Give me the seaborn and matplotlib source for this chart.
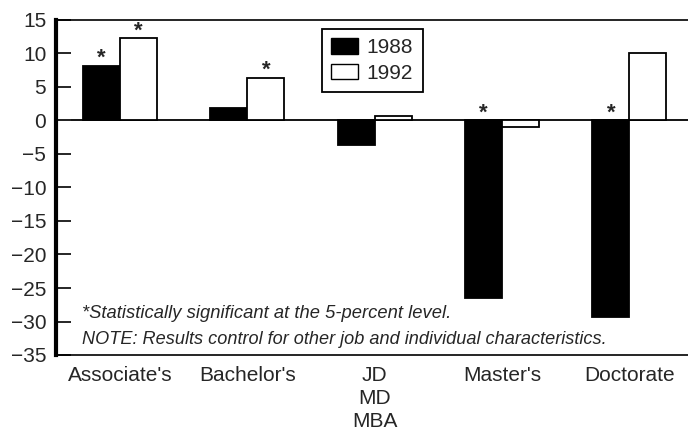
import numpy as np
import pandas as pd
import seaborn as sns
import matplotlib.pyplot as plt
from matplotlib.patches import Patch

# --- data ---
degrees = ["Associate's", "Bachelor's", "JD\nMD\nMBA", "Master's", "Doctorate"]
years = ["1988", "1992"]
values_1988 = [8.2, 1.9, -3.6, -26.5, -29.3]
values_1992 = [12.3, 6.4, 0.6, -1.0, 10.1]
signif_1988 = [True, False, False, True, True]
signif_1992 = [True, True, False, False, False]

df = pd.DataFrame({
    'degree': degrees * 2,
    'year': [years[0]] * len(degrees) + [years[1]] * len(degrees),
    'value': values_1988 + values_1992,
})

sns.set_style('white')
plt.rcParams['font.family'] = ['Liberation Sans', 'DejaVu Sans']

fig = plt.figure(figsize=(6.88, 4.34), dpi=100)
ax = fig.add_axes([56 / 688, 1 - 355 / 434, 1 - 56 / 688, (355 - 20) / 434])

sns.barplot(data=df, x='degree', y='value', hue='year', order=degrees, hue_order=years,
            palette=['black', 'white'], edgecolor='black', linewidth=1.3,
            width=0.58, saturation=1, ax=ax, legend=False)

ax.axhline(0, color='black', lw=1.3, zorder=0)

# asterisks for significance
bw = 0.29
for i in range(len(degrees)):
    if signif_1988[i]:
        ax.text(i - bw / 2, max(values_1988[i], 0) + 1.1, '*', ha='center', va='center',
                fontsize=16, fontweight='bold')
    if signif_1992[i]:
        ax.text(i + bw / 2, max(values_1992[i], 0) + 1.1, '*', ha='center', va='center',
                fontsize=16, fontweight='bold')

ax.set_ylim(-35, 15)
ax.set_xlim(-0.503, 4.46)
ax.set_yticks(np.arange(-35, 16, 5))
ax.set_xlabel('')
ax.set_ylabel('')

ax.spines['right'].set_visible(False)
ax.spines['left'].set_linewidth(3)
ax.spines['top'].set_linewidth(1.2)
ax.spines['bottom'].set_linewidth(1.2)
for s in ax.spines.values():
    s.set_color('black')

ax.tick_params(axis='y', direction='in', length=11, width=1.4, pad=7, labelsize=15, left=True)
ax.tick_params(axis='x', length=0, pad=8, labelsize=15)
for lab in ax.get_xticklabels():
    lab.set_linespacing(1.27)

# footnotes
ax.text(0.041, 0.110, '*Statistically significant at the 5-percent level.',
        transform=ax.transAxes, style='italic', fontsize=13.2, va='baseline')
ax.text(0.041, 0.034, 'NOTE: Results control for other job and individual characteristics.',
        transform=ax.transAxes, style='italic', fontsize=13.1, va='baseline')

handles = [Patch(facecolor='black', edgecolor='black'),
           Patch(facecolor='white', edgecolor='black')]
leg = ax.legend(handles, years, loc='upper left', bbox_to_anchor=((322 - 56) / 632, 1 - 9 / 335),
                borderaxespad=0, fontsize=15, fancybox=False, framealpha=1, edgecolor='black',
                handlelength=1.3, handleheight=0.75, handletextpad=0.4, borderpad=0.45,
                labelspacing=0.3)
leg.get_frame().set_linewidth(1.3)

fig.savefig('out.png', dpi=100)
